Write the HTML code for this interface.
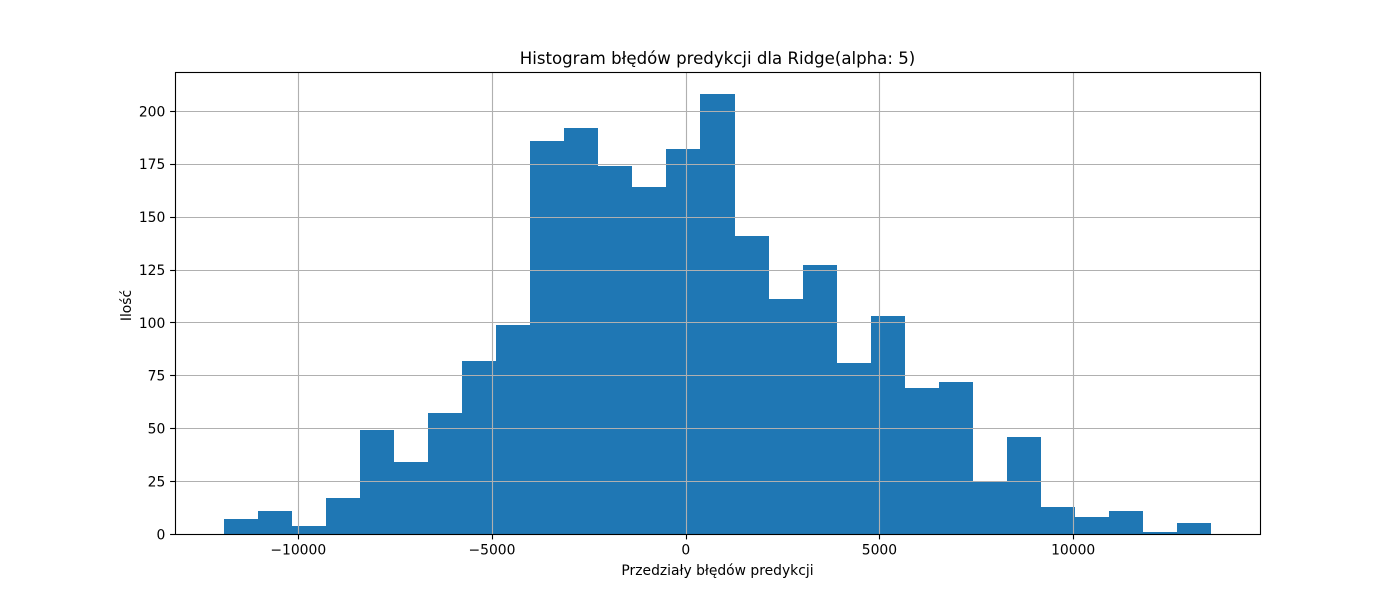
<!DOCTYPE html>
<html lang="pl">
<head>
<meta charset="utf-8">
<title>Histogram błędów predykcji</title>
<style>
  html, body { margin: 0; padding: 0; background: #ffffff; }
  svg { display: block; }
  text { font-family: "DejaVu Sans", "Liberation Sans", sans-serif; fill: #000000; }
</style>
</head>
<body>
<svg id="chart" xmlns="http://www.w3.org/2000/svg" width="1400" height="600" viewBox="0 0 1400 600">
  <rect x="0" y="0" width="1400" height="600" fill="#ffffff"/>
  <g id="bars"></g>
  <g id="grid"></g>
  <g id="ticks"></g>
  <g id="spines"></g>
  <text x="717.5" y="64" font-size="16.6" text-anchor="middle">Histogram błędów predykcji dla Ridge(alpha: 5)</text>
  <text x="717.5" y="575" font-size="13.89" text-anchor="middle">Przedziały błędów predykcji</text>
  <text transform="translate(131,305.5) rotate(-90)" font-size="13.89" text-anchor="middle">Ilość</text>
</svg>
<script>
const binCounts = [7, 11, 4, 17, 49, 34, 57, 82, 99, 186, 192, 174, 164, 182, 208, 141, 111, 127, 81, 103, 69, 72, 25, 46, 13, 8, 11, 1, 5];
const binStart = -11909;
const binEnd = 13549;
const xTickValues = [-10000, -5000, 0, 5000, 10000];
const yTickValues = [0, 25, 50, 75, 100, 125, 150, 175, 200];

const NS = 'http://www.w3.org/2000/svg';
const plot = { left: 175, right: 1260, top: 72, bottom: 534 };
const binWidth = (binEnd - binStart) / binCounts.length;
const xMargin = (binEnd - binStart) * 0.05;
const xMin = binStart - xMargin;
const xMax = binEnd + xMargin;
const yMax = Math.max(...binCounts) * 1.05;

function xScale(v) {
  return plot.left + (v - xMin) / (xMax - xMin) * (plot.right - plot.left);
}
function yScale(v) {
  return plot.bottom - v / yMax * (plot.bottom - plot.top);
}
function snap(p) {
  return Math.round(p) + 0.5;
}
function make(tag, attrs, parent) {
  const el = document.createElementNS(NS, tag);
  Object.keys(attrs).forEach(function (k) { el.setAttribute(k, attrs[k]); });
  parent.appendChild(el);
  return el;
}

const barsGroup = document.getElementById('bars');
const gridGroup = document.getElementById('grid');
const ticksGroup = document.getElementById('ticks');
const spinesGroup = document.getElementById('spines');

binCounts.forEach(function (count, i) {
  const x0 = Math.round(xScale(binStart + i * binWidth));
  const x1 = Math.round(xScale(binStart + (i + 1) * binWidth));
  const y0 = Math.round(yScale(count));
  const rect = make('rect', { x: x0, y: y0, width: x1 - x0, height: plot.bottom - y0, fill: '#1f77b4', 'shape-rendering': 'crispEdges' }, barsGroup);
  
  
});

xTickValues.forEach(function (v) {
  const x = snap(xScale(v));
  const line = make('line', { x1: x, x2: x, y1: plot.top, y2: plot.bottom, stroke: '#b0b0b0', 'stroke-width': 1.11 }, gridGroup);
  
  
  const mark = make('line', { x1: x, x2: x, y1: plot.bottom, y2: plot.bottom + 5.4, stroke: '#000000', 'stroke-width': 1.11 }, ticksGroup);
  
  
  const label = make('text', { x: xScale(v), y: 554.3, 'font-size': 13.89, 'text-anchor': 'middle' }, ticksGroup);
  
  
  label.textContent = String(v).replace('-', '\u2212');
});

yTickValues.forEach(function (v) {
  const y = snap(yScale(v));
  const line = make('line', { x1: plot.left, x2: plot.right, y1: y, y2: y, stroke: '#b0b0b0', 'stroke-width': 1.11 }, gridGroup);
  
  
  const mark = make('line', { x1: plot.left - 4.9, x2: plot.left, y1: y, y2: y, stroke: '#000000', 'stroke-width': 1.11 }, ticksGroup);
  
  
  const label = make('text', { x: 165.3, y: yScale(v) + 5.4, 'font-size': 13.89, 'text-anchor': 'end' }, ticksGroup);
  
  
  label.textContent = String(v);
});

const frame = make('rect', { x: plot.left + 0.5, y: plot.top + 0.5, width: plot.right - plot.left, height: plot.bottom - plot.top, fill: 'none', stroke: '#000000', 'stroke-width': 1.11 }, spinesGroup);


</script>
</body>
</html>
